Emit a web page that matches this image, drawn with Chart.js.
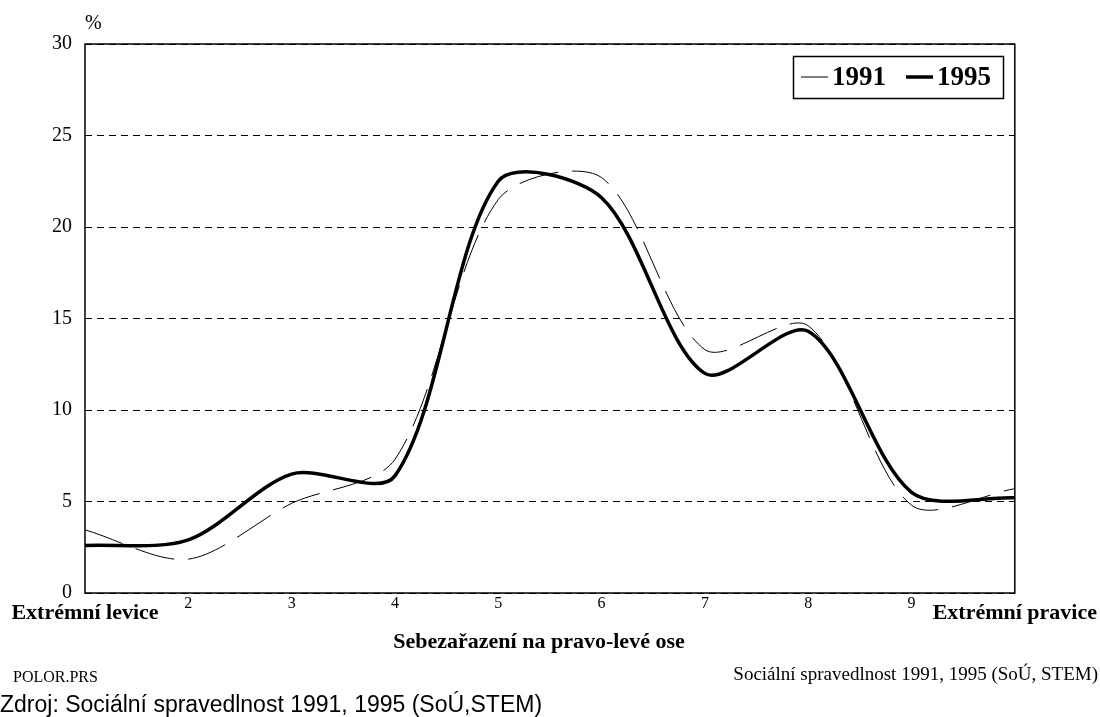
<!DOCTYPE html>
<html>
<head>
<meta charset="utf-8">
<script src="https://cdn.jsdelivr.net/npm/chart.js@4/dist/chart.umd.min.js"></script>
<style>
  html, body { margin: 0; padding: 0; background: #fff; }
</style>
</head>
<body>
<canvas id="chart" width="1100" height="717"></canvas>
<script>
// categories of the left-right self placement scale
var categories = ['Extrémní levice', '2', '3', '4', '5', '6', '7', '8', '9', 'Extrémní pravice'];
// share of respondents in %
var values1991 = [3.45, 1.85, 4.9, 7.3, 21.5, 22.7, 13.3, 14.6, 4.8, 5.7];
var values1995 = [2.6, 2.9, 6.5, 6.4, 22.5, 21.6, 12.0, 14.3, 5.5, 5.2];
var yTicks = [0, 5, 10, 15, 20, 25, 30];

var SERIF = '"Liberation Serif", "Times New Roman", serif';

// draws the frame, legend box and the loose texts round the plot
var extrasPlugin = {
    id: 'extras',
    afterDraw: function(chart) {
        var ctx = chart.ctx;
        var area = chart.chartArea;
        ctx.save();

        // plot frame
        ctx.strokeStyle = '#000';
        ctx.lineWidth = 1.5;
        ctx.setLineDash([]);
        ctx.strokeRect(area.left, area.top, area.right - area.left, area.bottom - area.top);

        ctx.fillStyle = '#000';
        ctx.textBaseline = 'middle';

        ctx.font = '20px ' + SERIF;
        ctx.textAlign = 'left';
        ctx.fillText('%', 85, 24);

        ctx.font = 'bold 22px ' + SERIF;
        ctx.textAlign = 'center';
        ctx.fillText('Sebezařazení na pravo-levé ose', 539, 642);

        ctx.font = '16px ' + SERIF;
        ctx.textAlign = 'left';
        ctx.fillText('POLOR.PRS', 13, 678);

        ctx.font = '19px ' + SERIF;
        ctx.textAlign = 'right';
        ctx.fillText('Sociální spravedlnost 1991, 1995 (SoÚ, STEM)', 1098, 675);

        ctx.font = '23px "Liberation Sans", Arial, sans-serif';
        ctx.textAlign = 'left';
        ctx.fillText('Zdroj: Sociální spravedlnost 1991, 1995 (SoÚ,STEM)', 0, 706);

        // legend inside the plot, top right
        ctx.fillStyle = '#fff';
        ctx.fillRect(793, 56, 210, 42);
        ctx.lineWidth = 1.5;
        ctx.strokeRect(793.5, 56.5, 210, 42);
        ctx.font = 'bold 27px ' + SERIF;
        ctx.textAlign = 'left';
        var x = 801;
        chart.data.datasets.forEach(function(ds) {
            ctx.strokeStyle = '#000';
            ctx.lineWidth = ds.borderWidth;
            ctx.beginPath();
            ctx.moveTo(x, 77);
            ctx.lineTo(x + 27, 77);
            ctx.stroke();
            x += 31;
            ctx.fillStyle = '#000';
            ctx.fillText(ds.label, x, 78);
            x += ctx.measureText(ds.label).width + 20;
        });
        ctx.restore();
    }
};

var ctx = document.getElementById('chart').getContext('2d');
var chart = new Chart(ctx, {
    type: 'line',
    data: {
        labels: categories,
        datasets: [
            {
                label: '1991',
                data: values1991,
                borderColor: '#000',
                borderWidth: 1,
                borderDash: [40, 14],
                pointRadius: 0,
                tension: 0.3,
                fill: false
            },
            {
                label: '1995',
                data: values1995,
                borderColor: '#000',
                borderWidth: 3.5,
                pointRadius: 0,
                tension: 0.3,
                fill: false
            }
        ]
    },
    options: {
        responsive: false,
        animation: false,
        layout: { padding: { top: 44, right: 84, bottom: 0, left: 0 } },
        plugins: {
            legend: { display: false },
            tooltip: { enabled: false }
        },
        scales: {
            x: {
                offset: false,
                grid: { display: false, drawTicks: false },
                border: { display: false },
                ticks: {
                    autoSkip: false,
                    maxRotation: 0,
                    minRotation: 0,
                    padding: 3,
                    color: '#000',
                    font: function(c) {
                        var last = categories.length - 1;
                        if (c.index === 0 || c.index === last) {
                            return { family: SERIF, size: 22, weight: 'bold', lineHeight: 1.6 };
                        }
                        return { family: SERIF, size: 16, lineHeight: 1.0 };
                    }
                },
                afterFit: function(scale) { scale.height = 124; }
            },
            y: {
                min: 0,
                max: 30,
                afterBuildTicks: function(scale) {
                    scale.ticks = yTicks.map(function(v) { return { value: v }; });
                },
                grid: { color: '#000', lineWidth: 1, drawTicks: false },
                border: { display: false, dash: [7, 5] },
                ticks: {
                    color: '#000',
                    padding: 13,
                    font: { family: SERIF, size: 20 }
                },
                afterFit: function(scale) { scale.width = 85; }
            }
        }
    },
    plugins: [extrasPlugin]
});
</script>
</body>
</html>
